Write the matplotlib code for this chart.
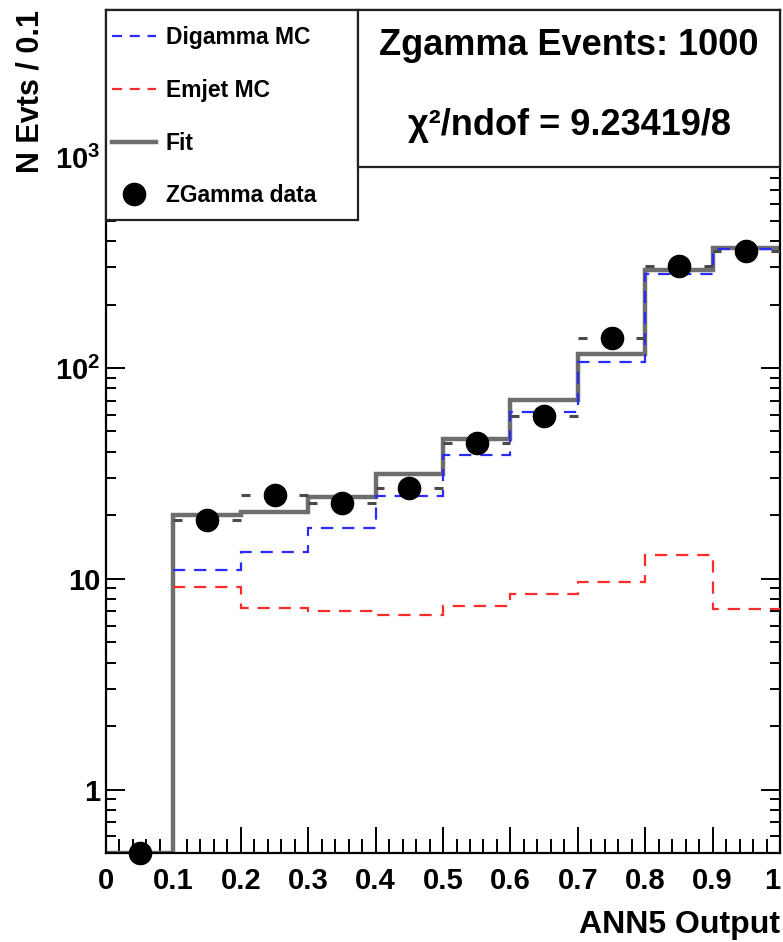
import numpy as np
import matplotlib
matplotlib.use("Agg")
import matplotlib.pyplot as plt
from matplotlib.patches import Rectangle
from matplotlib.lines import Line2D
from matplotlib.ticker import MultipleLocator, LogLocator, FuncFormatter, NullFormatter

plt.rcParams['font.family'] = ['Liberation Sans', 'DejaVu Sans']
plt.rcParams['font.weight'] = 'bold'
plt.rcParams['mathtext.fontset'] = 'custom'
plt.rcParams['mathtext.rm'] = 'Liberation Sans:bold'
plt.rcParams['mathtext.bf'] = 'Liberation Sans:bold'
plt.rcParams['mathtext.it'] = 'Liberation Sans:bold'

# ANN5 output histogram, 10 bins of 0.1
bin_edges = np.linspace(0.0, 1.0, 11)
digamma_mc = np.array([0.0, 11.0, 13.4, 17.5, 24.7, 38.7, 61.9, 107.0, 279.0, 366.0])
emjet_mc = np.array([0.0, 9.1, 7.3, 7.05, 6.7, 7.45, 8.5, 9.7, 12.9, 7.2])
zgamma_data = np.array([0, 19, 25, 23, 27, 44, 59, 139, 305, 359])

x_ticks = np.linspace(0.0, 1.0, 11)
x_tick_labels = ['0', '0.1', '0.2', '0.3', '0.4', '0.5', '0.6', '0.7', '0.8', '0.9', '1']

n_events = 1000
chi2 = 9.23419
ndof = 8

Y_MIN, Y_MAX = 0.5, 5000.0

fit = digamma_mc + emjet_mc
centers = 0.5 * (bin_edges[:-1] + bin_edges[1:])

fig = plt.figure(figsize=(7.83, 9.42), dpi=100)
ax = fig.add_axes([0.1354, 0.0945, 0.8608, 0.8949])

gray = '#6e6e6e'
blue = '#2a2aff'
red = '#ff2a2a'
dash = (0, (5.5, 4))


def nonzero(v):
    return np.where(v > 0, v, np.nan)


# the fit sits on the bottom of the frame where it is empty; MC templates just skip empty bins
ax.stairs(np.clip(fit, Y_MIN, None), bin_edges, baseline=None, color=gray, lw=3.2, zorder=2)
ax.stairs(nonzero(digamma_mc), bin_edges, baseline=None, color=blue,
          lw=1.6, linestyle=dash, zorder=3)
ax.stairs(nonzero(emjet_mc), bin_edges, baseline=None, color=red,
          lw=1.6, linestyle=dash, zorder=3)

# horizontal bin-width bars of the data (only the stubs near the edges show)
stub = 0.013
for lo, hi, v in zip(bin_edges[:-1], bin_edges[1:], zgamma_data):
    if v <= 0:
        continue
    ax.hlines([v, v], [lo, hi - stub], [lo + stub, hi], color='#4a4a4a', lw=2.2, zorder=4)

ax.plot(centers, np.clip(zgamma_data, Y_MIN, None), 'o', color='k', ms=16,
        clip_on=False, zorder=5)

ax.set_yscale('log')
ax.set_xlim(0, 1)
ax.set_ylim(Y_MIN, Y_MAX)

ax.set_xticks(x_ticks, labels=x_tick_labels)
ax.xaxis.set_minor_locator(MultipleLocator(0.02))
# last label would run off the canvas, so hang it left of its tick
plt.setp(ax.get_xticklabels()[-1], ha='right')


def log_label(v, pos):
    e = int(round(np.log10(v)))
    if e <= 1:
        return f"{int(round(v))}"
    return r"$\mathbf{10^{%d}}$" % e


ax.yaxis.set_major_locator(LogLocator(base=10, numticks=10))
ax.yaxis.set_minor_locator(LogLocator(base=10, subs=np.arange(2, 10), numticks=20))
ax.yaxis.set_major_formatter(FuncFormatter(log_label))
ax.yaxis.set_minor_formatter(NullFormatter())

ax.tick_params(axis='x', which='both', direction='in', top=False, labelsize=21, pad=10, width=1.4)
ax.tick_params(axis='x', which='major', length=19)
ax.tick_params(axis='x', which='minor', length=10)
ax.tick_params(axis='y', which='both', direction='in', left=True, right=True, labelsize=21, pad=4, width=1.4)
ax.tick_params(axis='y', which='major', length=14)
ax.tick_params(axis='y', which='minor', length=7.5)
for s in ax.spines.values():
    s.set_linewidth(1.6)

ax.set_ylabel('N Evts / 0.1', loc='top', fontsize=22, fontweight='bold')
ax.yaxis.set_label_coords(-0.090, 1.0)
ax.set_xlabel('ANN5 Output', loc='right', fontsize=23, fontweight='bold')
ax.xaxis.set_label_coords(1.0, -0.068)

# legend pane and statistics pane over the top of the frame
fig.add_artist(Rectangle((0.1354, 0.7665), 0.3218, 0.2229, transform=fig.transFigure,
                         facecolor='white', edgecolor='#222222', lw=1.6, zorder=3))
fig.add_artist(Rectangle((0.4572, 0.8227), 0.5390, 0.1667, transform=fig.transFigure,
                         facecolor='white', edgecolor='#222222', lw=1.6, zorder=3))

handles = [
    Line2D([], [], color=blue, lw=1.6, linestyle=(0, (4.5, 3.5)), label='Digamma MC'),
    Line2D([], [], color=red, lw=1.6, linestyle=(0, (4.5, 3.5)), label='Emjet MC'),
    Line2D([], [], color=gray, lw=3.2, label='Fit'),
    Line2D([], [], color='k', marker='o', ms=16, linestyle='none', label='ZGamma data'),
]
leg = fig.legend(handles=handles, loc='upper left', bbox_to_anchor=(0.143, 0.9724),
                 bbox_transform=fig.transFigure, frameon=False, fontsize=16.5,
                 handlelength=1.9, handletextpad=0.45, labelspacing=1.3,
                 borderpad=0, borderaxespad=0)
leg.set_zorder(6)

fig.text(0.7267, 0.9522, f'Zgamma Events: {n_events}', ha='center', va='center',
         fontsize=26, fontweight='bold', zorder=6)
fig.text(0.7267, 0.8673, f'\u03c7\u00b2/ndof = {chi2:.5f}/{ndof}', ha='center', va='center',
         fontsize=26, fontweight='bold', zorder=6)

fig.savefig('out.png', dpi=100)
